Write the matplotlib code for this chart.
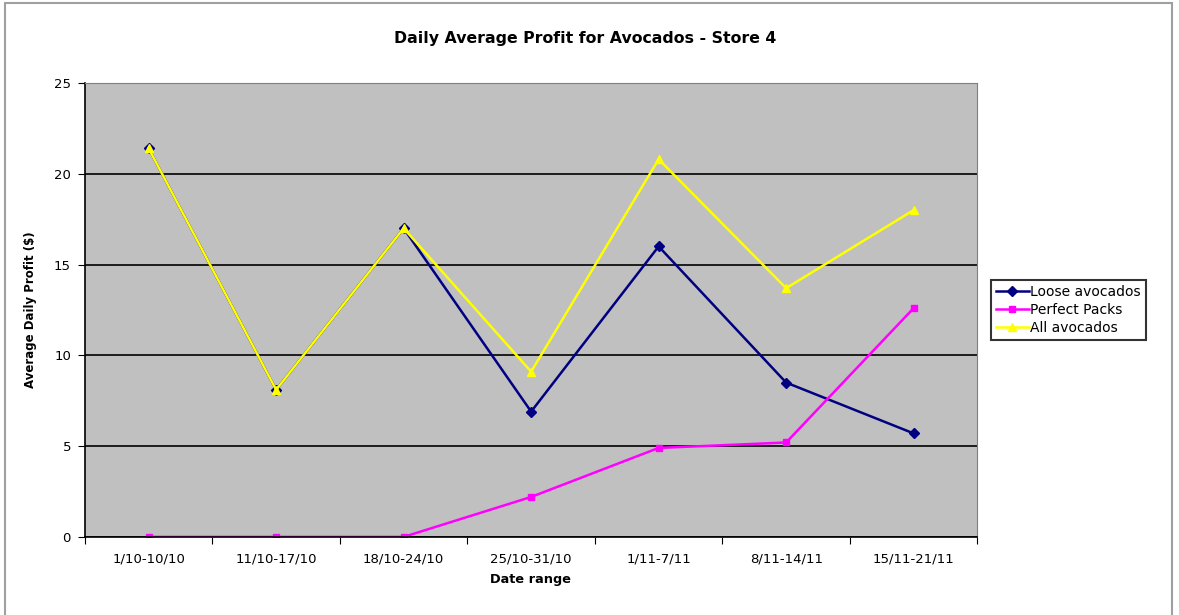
import matplotlib.pyplot as plt
from matplotlib.patches import Rectangle

plt.rcParams['font.family'] = ['DejaVu Sans']

date_ranges = ["1/10-10/10", "11/10-17/10", "18/10-24/10", "25/10-31/10",
               "1/11-7/11", "8/11-14/11", "15/11-21/11"]
loose = [21.4, 8.1, 17.0, 6.9, 16.0, 8.5, 5.7]
perfect_packs = [0, 0, 0, 2.2, 4.9, 5.2, 12.6]
all_avocados = [21.4, 8.1, 17.0, 9.1, 20.8, 13.7, 18.0]

fig = plt.figure(figsize=(11.79, 6.15), dpi=100)
ax = fig.add_axes([0.072, 0.127, 0.757, 0.738])
ax.set_facecolor('#c0c0c0')

x = list(range(len(date_ranges)))
ax.plot(x, loose, color='#000080', marker='D', markersize=5, lw=1.8, label='Loose avocados')
ax.plot(x, perfect_packs, color='#ff00ff', marker='s', markersize=5, lw=1.8, label='Perfect Packs')
ax.plot(x, all_avocados, color='#ffff00', marker='^', markersize=6, lw=1.8, label='All avocados')

ax.set_xlim(-0.5, len(date_ranges) - 0.5)
ax.set_ylim(0, 25)
ax.set_yticks([0, 5, 10, 15, 20, 25])
ax.yaxis.grid(True, color='black', lw=1.2)
ax.set_axisbelow(True)

# excel style: tick marks between categories, labels at centres
ax.set_xticks([i - 0.5 for i in range(len(date_ranges) + 1)])
ax.set_xticklabels([])
ax.set_xticks(x, minor=True)
ax.set_xticklabels(date_ranges, minor=True, fontsize=9.5)
ax.tick_params(axis='x', which='minor', length=0, pad=11)
ax.tick_params(axis='x', which='major', length=5, direction='out', color='black')
ax.tick_params(axis='y', labelsize=9.5, length=5, direction='out', pad=5)

for s in ['left', 'bottom']:
    ax.spines[s].set_linewidth(1.2)
ax.spines['top'].set_color('#808080')
ax.spines['right'].set_color('#808080')

# title and x label are placed relative to the whole chart, like excel does
fig.text(0.496, 0.938, 'Daily Average Profit for Avocados - Store 4',
         fontsize=11.3, fontweight='bold', ha='center', va='center')
fig.text(0.450, 0.058, 'Date range', fontsize=9.3, fontweight='bold',
         ha='center', va='center')
ax.set_ylabel('Average Daily Profit ($)', fontsize=8.5, fontweight='bold', labelpad=12)

leg = ax.legend(loc='center left', bbox_to_anchor=(1.015, 0.5), fontsize=10,
                frameon=True, fancybox=False, edgecolor='black', handlelength=2.4,
                borderpad=0.35, labelspacing=0.3, handletextpad=0.1, borderaxespad=0)
leg.get_frame().set_linewidth(1.5)

fig.patches.append(Rectangle((0.004, -0.01), 0.99, 1.005, transform=fig.transFigure,
                             fill=False, edgecolor='#a0a0a0', lw=1.5))

fig.savefig('out.png', dpi=100)
